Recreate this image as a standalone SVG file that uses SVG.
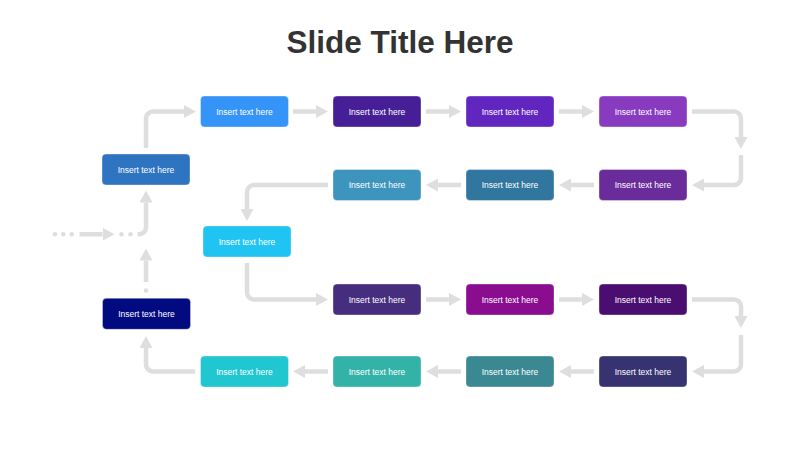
<svg xmlns="http://www.w3.org/2000/svg" width="800" height="450" viewBox="0 0 800 450">
<style>
.title{font-family:"Liberation Sans",Arial,sans-serif;font-weight:bold;font-size:31.5px;fill:#333333;text-anchor:middle}
.box{stroke:#ffffff;stroke-opacity:0.35;stroke-width:1}
.lbl{font-family:"Liberation Sans",Arial,sans-serif;font-size:8.5px;fill:#ffffff;text-anchor:middle}
.con{fill:none;stroke:#dedede;stroke-width:4.5}
.dot{fill:#dedede}
</style>
<defs>
<marker id="ah" markerUnits="userSpaceOnUse" markerWidth="12" markerHeight="13" refX="0" refY="6.5" orient="auto" viewBox="0 0 12 13">
<path d="M0,0 L12,6.5 L0,13 Z" fill="#dedede"/>
</marker>
</defs>
<rect width="800" height="450" fill="#ffffff"/>
<text class="title" x="400" y="52.5">Slide Title Here</text>

<g id="connectors">
<path class="con" marker-end="url(#ah)" d="M146,148 V118.5 A7,7 0 0 1 153,111.5 H184"/>
<path class="con" marker-end="url(#ah)" d="M293,111.5 H316"/>
<path class="con" marker-end="url(#ah)" d="M426,111.5 H449"/>
<path class="con" marker-end="url(#ah)" d="M559,111.5 H582"/>
<path class="con" marker-end="url(#ah)" d="M692,111.5 H734 A7,7 0 0 1 741,118.5 V137"/>
<path class="con" marker-end="url(#ah)" d="M741,155 V178 A7,7 0 0 1 734,185 H704"/>
<path class="con" marker-end="url(#ah)" d="M594,185 H571"/>
<path class="con" marker-end="url(#ah)" d="M461,185 H438"/>
<path class="con" marker-end="url(#ah)" d="M328,185 H254 A7,7 0 0 0 247,192 V209"/>
<path class="con" marker-end="url(#ah)" d="M247,263 V292.5 A7,7 0 0 0 254,299.5 H316"/>
<path class="con" marker-end="url(#ah)" d="M426,299.5 H449"/>
<path class="con" marker-end="url(#ah)" d="M559,299.5 H582"/>
<path class="con" marker-end="url(#ah)" d="M692,299.5 H734 A7,7 0 0 1 741,306.5 V316"/>
<path class="con" marker-end="url(#ah)" d="M741,335 V364.5 A7,7 0 0 1 734,371.5 H704"/>
<path class="con" marker-end="url(#ah)" d="M594,371.5 H571"/>
<path class="con" marker-end="url(#ah)" d="M461,371.5 H438"/>
<path class="con" marker-end="url(#ah)" d="M328,371.5 H305"/>
<path class="con" marker-end="url(#ah)" d="M195,371.5 H153 A7,7 0 0 1 146,364.5 V348"/>
<path class="con" marker-end="url(#ah)" d="M146,282 V260.5"/>
<circle class="dot" cx="146" cy="290.5" r="2.3"/>
<circle class="dot" cx="55" cy="234.3" r="2.3"/>
<circle class="dot" cx="63.3" cy="234.3" r="2.3"/>
<circle class="dot" cx="71.7" cy="234.3" r="2.3"/>
<path class="con" marker-end="url(#ah)" d="M79.5,234.3 H102.5"/>
<circle class="dot" cx="121.5" cy="234.3" r="2.3"/>
<circle class="dot" cx="130.5" cy="234.3" r="2.3"/>
<path class="con" marker-end="url(#ah)" d="M137.5,234.3 H139 A7,7 0 0 0 146,227.3 V202.5"/>
</g>

<g id="node-a"><rect class="box" x="102" y="154" width="88" height="31" rx="4" fill="#2f74c0"/><text class="lbl" x="146" y="172.5">Insert text here</text></g>
<g id="node-b"><rect class="box" x="200.5" y="96" width="88" height="31" rx="4" fill="#3494f8"/><text class="lbl" x="244.5" y="114.5">Insert text here</text></g>
<g id="node-c"><rect class="box" x="333" y="96" width="88" height="31" rx="4" fill="#461f96"/><text class="lbl" x="377" y="114.5">Insert text here</text></g>
<g id="node-d"><rect class="box" x="466" y="96" width="88" height="31" rx="4" fill="#6126bf"/><text class="lbl" x="510" y="114.5">Insert text here</text></g>
<g id="node-e"><rect class="box" x="599" y="96" width="88" height="31" rx="4" fill="#893bc0"/><text class="lbl" x="643" y="114.5">Insert text here</text></g>
<g id="node-f"><rect class="box" x="333" y="169.5" width="88" height="31" rx="4" fill="#3d94bd"/><text class="lbl" x="377" y="188">Insert text here</text></g>
<g id="node-g"><rect class="box" x="466" y="169.5" width="88" height="31" rx="4" fill="#30769f"/><text class="lbl" x="510" y="188">Insert text here</text></g>
<g id="node-h"><rect class="box" x="599" y="169.5" width="88" height="31" rx="4" fill="#6a2c9a"/><text class="lbl" x="643" y="188">Insert text here</text></g>
<g id="node-i"><rect class="box" x="203" y="226" width="88" height="31" rx="4" fill="#1fc4f2"/><text class="lbl" x="247" y="244.5">Insert text here</text></g>
<g id="node-j"><rect class="box" x="333" y="284" width="88" height="31" rx="4" fill="#472d7e"/><text class="lbl" x="377" y="302.5">Insert text here</text></g>
<g id="node-k"><rect class="box" x="466" y="284" width="88" height="31" rx="4" fill="#8a0c8f"/><text class="lbl" x="510" y="302.5">Insert text here</text></g>
<g id="node-l"><rect class="box" x="599" y="284" width="88" height="31" rx="4" fill="#4a0e70"/><text class="lbl" x="643" y="302.5">Insert text here</text></g>
<g id="node-m"><rect class="box" x="200.5" y="356" width="88" height="31" rx="4" fill="#20c6d0"/><text class="lbl" x="244.5" y="374.5">Insert text here</text></g>
<g id="node-n"><rect class="box" x="333" y="356" width="88" height="31" rx="4" fill="#33b3a8"/><text class="lbl" x="377" y="374.5">Insert text here</text></g>
<g id="node-o"><rect class="box" x="466" y="356" width="88" height="31" rx="4" fill="#3a8891"/><text class="lbl" x="510" y="374.5">Insert text here</text></g>
<g id="node-p"><rect class="box" x="599" y="356" width="88" height="31" rx="4" fill="#363370"/><text class="lbl" x="643" y="374.5">Insert text here</text></g>
<g id="node-q"><rect class="box" x="102.5" y="298.3" width="88" height="31" rx="4" fill="#020a80"/><text class="lbl" x="146.5" y="316.8">Insert text here</text></g>
</svg>
